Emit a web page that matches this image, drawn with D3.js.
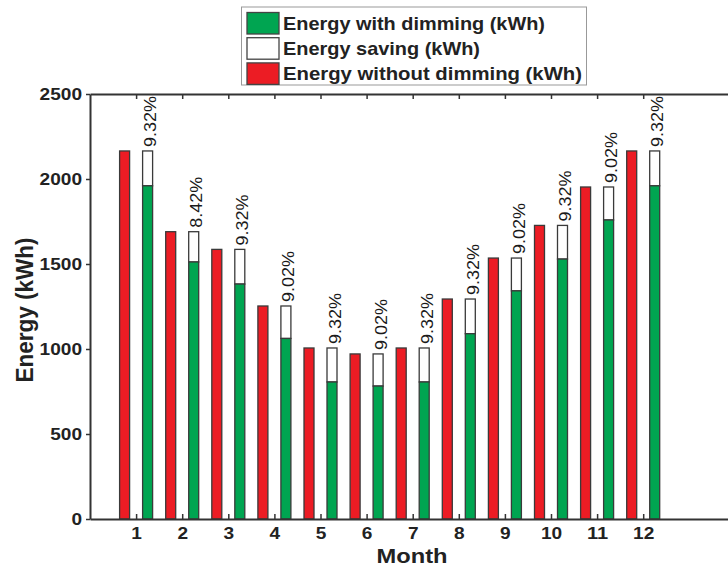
<!DOCTYPE html>
<html><head><meta charset="utf-8">
<script src="https://cdn.jsdelivr.net/npm/d3@7"></script>
<style>html,body{margin:0;padding:0;background:#fff;overflow:hidden}svg{display:block;overflow:hidden}text{font-family:"Liberation Sans",Arial,sans-serif}</style>
</head><body><svg id="c" width="728" height="569"></svg>
<script>
const months = [1,2,3,4,5,6,7,8,9,10,11,12];
const energyWithout = [2165,1690,1586,1253,1006,971,1006,1294,1535,1727,1953,2165];
const energyWith = [1960,1512,1382,1062,806,782,806,1090,1342,1529,1759,1960];
const savingLabels = ["9.32%","8.42%","9.32%","9.02%","9.32%","9.02%","9.32%","9.32%","9.02%","9.32%","9.02%","9.32%"];
const yTicks = [0,500,1000,1500,2000,2500];
const legendItems = ["Energy with dimming (kWh)","Energy saving (kWh)","Energy without dimming (kWh)"];
const colors = {green:"#00a551", red:"#ec1c24", white:"#ffffff"};

const svg = d3.select("#c");
const L=90, T=94, B=519, step=46.1;
const xMax = (728 - L) / step;
const x = d3.scaleLinear().domain([0, xMax]).range([L, 728]);
const y = d3.scaleLinear().domain([0,2500]).range([B,T]);
const bw = 10, off = 11.5;

// bars
const g = svg.append("g");
months.forEach((m,i)=>{
  const cx = x(m);
  g.append("rect").attr("x",cx-off-bw/2).attr("y",y(energyWithout[i])).attr("width",bw).attr("height",y(0)-y(energyWithout[i]))
    .attr("fill",colors.red).attr("stroke","#3a3a3a").attr("stroke-width",1.3);
  g.append("rect").attr("x",cx+off-bw/2).attr("y",y(energyWithout[i])).attr("width",bw).attr("height",y(energyWith[i])-y(energyWithout[i]))
    .attr("fill",colors.white).attr("stroke","#3a3a3a").attr("stroke-width",1.3);
  g.append("rect").attr("x",cx+off-bw/2).attr("y",y(energyWith[i])).attr("width",bw).attr("height",y(0)-y(energyWith[i]))
    .attr("fill",colors.green).attr("stroke","#3a3a3a").attr("stroke-width",1.3);
  const tx = cx+off+3, ty = y(energyWithout[i])-4;
  g.append("text").attr("transform",`translate(${tx},${ty}) rotate(-90)`)
    .attr("dominant-baseline","central").attr("font-size",16)
    .attr("textLength",51).attr("lengthAdjust","spacingAndGlyphs")
    .attr("fill","#1a1a1a").text(savingLabels[i]);
});

// axes
const xb = d3.axisBottom(x).tickValues(months).tickSize(-5).tickSizeOuter(0).tickPadding(9).tickFormat(d3.format("d"));
const xt = d3.axisTop(x).tickValues(months).tickSize(-5).tickSizeOuter(0).tickFormat("");
const yl = d3.axisLeft(y).tickValues(yTicks).tickSize(4).tickSizeOuter(0).tickPadding(4).tickFormat(d3.format("d"));
function style(a){ a.select(".domain").attr("stroke","#333").attr("stroke-width",2);
  a.selectAll(".tick line").attr("stroke","#333").attr("stroke-width",1.5);
  a.selectAll("text").attr("font-size",16).attr("font-weight","bold").attr("fill","#222")
   .attr("font-family","Liberation Sans, Arial, sans-serif")
   .each(function(){ const s=d3.select(this); const n=s.text().length; if(n) s.attr("textLength",n*10.6).attr("lengthAdjust","spacingAndGlyphs"); }); }
svg.append("g").attr("transform",`translate(0,${B})`).call(xb).call(style);
svg.append("g").attr("transform",`translate(0,${T})`).call(xt).call(style);
svg.append("g").attr("transform",`translate(${L},0)`).call(yl).call(style);

svg.append("text").attr("x",412).attr("y",563).attr("text-anchor","middle").attr("font-size",19.5).attr("font-weight","bold").attr("fill","#222")
  .attr("textLength",71).attr("lengthAdjust","spacingAndGlyphs").text("Month");
svg.append("text").attr("transform","translate(33,310) rotate(-90)").attr("text-anchor","middle").attr("font-size",24).attr("font-weight","bold").attr("fill","#222")
  .attr("textLength",145).attr("lengthAdjust","spacingAndGlyphs").text("Energy (kWh)");

// legend
const lg = svg.append("g");
lg.append("rect").attr("x",241.5).attr("y",7).attr("width",345).attr("height",78).attr("fill","#fff").attr("stroke","#999").attr("stroke-width",1);
const swFill=[colors.green,colors.white,colors.red];
const legW=[262,197,299];
legendItems.forEach((t,i)=>{
  const yy = 12.5 + i*25.2;
  lg.append("rect").attr("x",247).attr("y",yy).attr("width",32).attr("height",21.5).attr("fill",swFill[i]).attr("stroke","#444").attr("stroke-width",1.3);
  lg.append("text").attr("x",283).attr("y",yy+17).attr("font-size",19).attr("font-weight","bold").attr("fill","#222")
    .attr("textLength",legW[i]).attr("lengthAdjust","spacingAndGlyphs").text(t);
});
</script></body></html>
